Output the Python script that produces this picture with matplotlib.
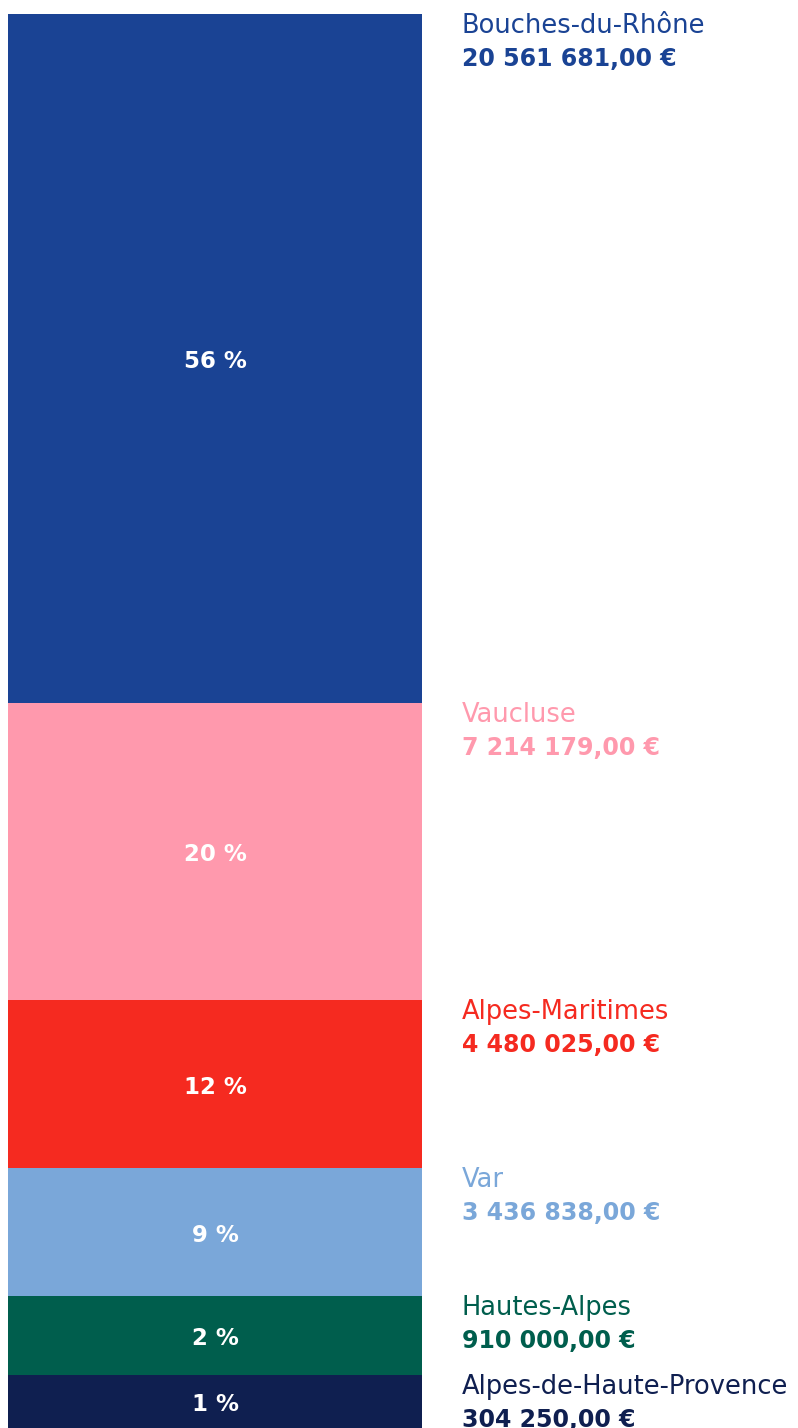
import matplotlib
matplotlib.use('Agg')
import matplotlib.pyplot as plt

# departments, top to bottom
departments = ["Bouches-du-Rhône", "Vaucluse", "Alpes-Maritimes", "Var",
               "Hautes-Alpes", "Alpes-de-Haute-Provence"]
amounts = [20561681.00, 7214179.00, 4480025.00, 3436838.00, 910000.00, 304250.00]
percent_labels = ["56 %", "20 %", "12 %", "9 %", "2 %", "1 %"]
# share of the bar each block takes in the picture (small blocks get a minimum size)
drawn_share = [48.7, 21.0, 11.9, 9.05, 5.6, 3.75]
colors = ["#1a4394", "#ff99ad", "#f52a20", "#7aa7d9", "#005e4d", "#0f1f50"]


def euro(v):
    s = f"{v:,.2f}".replace(",", " ").replace(".", ",")
    return s + " €"


W, H = 798, 1428
fig = plt.figure(figsize=(W / 100, H / 100), dpi=100)
ax = fig.add_axes([8 / W, 0, 414 / W, (H - 14) / H])
ax.set_xlim(0, 1)
ax.set_ylim(0, sum(drawn_share))
ax.axis("off")

plt.rcParams['font.family'] = ['DejaVu Sans']

bottom = sum(drawn_share)
for name, amt, pct, share, col in zip(departments, amounts, percent_labels, drawn_share, colors):
    top = bottom
    bottom = top - share
    ax.bar(0.5, share, width=1, bottom=bottom, color=col, linewidth=0)
    ax.annotate(pct, xy=(0.5, (top + bottom) / 2), xytext=(0, -7.2), textcoords="offset points",
                ha="center", va="baseline", color="white", fontsize=16.5, fontweight="bold")
    ax.annotate(name, xy=(462, top), xycoords=("figure pixels", "data"),
                xytext=(0, -13.7), textcoords="offset points",
                ha="left", va="baseline", color=col, fontsize=18.5, annotation_clip=False)
    ax.annotate(euro(amt), xy=(462, top), xycoords=("figure pixels", "data"),
                xytext=(0, -37.4), textcoords="offset points",
                ha="left", va="baseline", color=col, fontsize=17, fontweight="bold",
                annotation_clip=False)

fig.savefig("out.png", dpi=100)
plt.close(fig)
